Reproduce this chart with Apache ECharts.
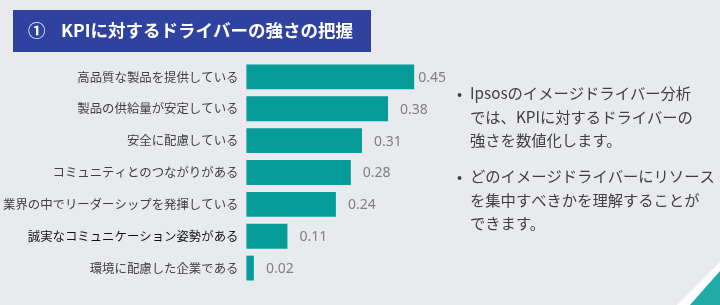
<!DOCTYPE html>
<html>
<head>
<meta charset="utf-8">
<script src="https://cdn.jsdelivr.net/npm/echarts@6/dist/echarts.min.js"></script>
<style>
  html, body { margin: 0; padding: 0; background: #e8eaee; }
  #chart { width: 720px; height: 305px; }
</style>
</head>
<body>
<div id="chart"></div>
<script>
// 項目とスコア
const titleNum = '①'
const titleText = 'KPIに対するドライバーの強さの把握'
const categories = [
  '高品質な製品を提供している',
  '製品の供給量が安定している',
  '安全に配慮している',
  'コミュニティとのつながりがある',
  '業界の中でリーダーシップを発揮している',
  '誠実なコミュニケーション姿勢がある',
  '環境に配慮した企業である'
]
const scores = [0.45, 0.38, 0.31, 0.28, 0.24, 0.11, 0.02]
const bullets = [
  ['Ipsosのイメージドライバー分析', 'では、KPIに対するドライバーの', '強さを数値化します。'],
  ['どのイメージドライバーにリソース', 'を集中すべきかを理解することが', 'できます。']
]

const font = '"Noto Sans CJK JP", "Noto Sans", sans-serif'
const chart = echarts.init(document.getElementById('chart'))

// 右側の説明文
const textGraphics = []
bullets.forEach((lines, b) => {
  const y0 = 96 + b * 83
  textGraphics.push({
    type: 'text', left: 457, top: y0 - 10,
    style: { text: '•', fill: '#404040', font: '15px ' + font }
  })
  lines.forEach((line, i) => {
    textGraphics.push({
      type: 'text', left: 470, top: y0 - 10 + i * 23.5,
      style: { text: line, fill: '#404040', font: '15.3px ' + font }
    })
  })
})

const option = {
  backgroundColor: '#e8eaee',
  animation: false,
  grid: { left: 245, top: 61, width: 187.8, height: 223 },
  xAxis: {
    type: 'value', min: 0, max: 0.5, show: false
  },
  yAxis: {
    type: 'category',
    data: categories,
    inverse: true,
    axisLine: { show: false },
    axisTick: { show: false },
    axisLabel: {
      margin: 8,
      fontSize: 12.4,
      fontFamily: font,
      color: (v, i) => (i === 5 ? '#111111' : '#404040')
    }
  },
  series: [
    {
      type: 'bar',
      barCategoryGap: '22%',
      data: scores.map((v, i) => ({
        value: v,
        label: { distance: i === 0 ? 4 : 12 }
      })),
      itemStyle: { color: '#049b98' },
      label: {
        show: true,
        position: 'right',
        color: '#7f7f7f',
        fontSize: 14,
        fontFamily: '"Noto Sans", sans-serif',
        offset: [0, 1],
        formatter: p => p.value.toFixed(2)
      }
    }
  ],
  graphic: [
    {
      type: 'rect',
      shape: { x: 13, y: 10, width: 358, height: 42 },
      style: { fill: '#2f42a0' }
    },
    {
      type: 'text', left: 28, top: 22,
      style: { text: titleNum, fill: '#ffffff', font: 'bold 17.5px ' + font }
    },
    {
      type: 'text', left: 61, top: 22,
      style: { text: titleText, fill: '#ffffff', font: 'bold 17.5px ' + font }
    },
    ...textGraphics,
    {
      type: 'polygon',
      shape: { points: [[677, 305], [720, 262], [720, 305]] },
      style: { fill: '#ffffff' }
    },
    {
      type: 'polygon',
      shape: { points: [[690, 305], [720, 271], [720, 305]] },
      style: { fill: '#20aca6' }
    }
  ]
}

chart.setOption(option)
</script>
</body>
</html>
